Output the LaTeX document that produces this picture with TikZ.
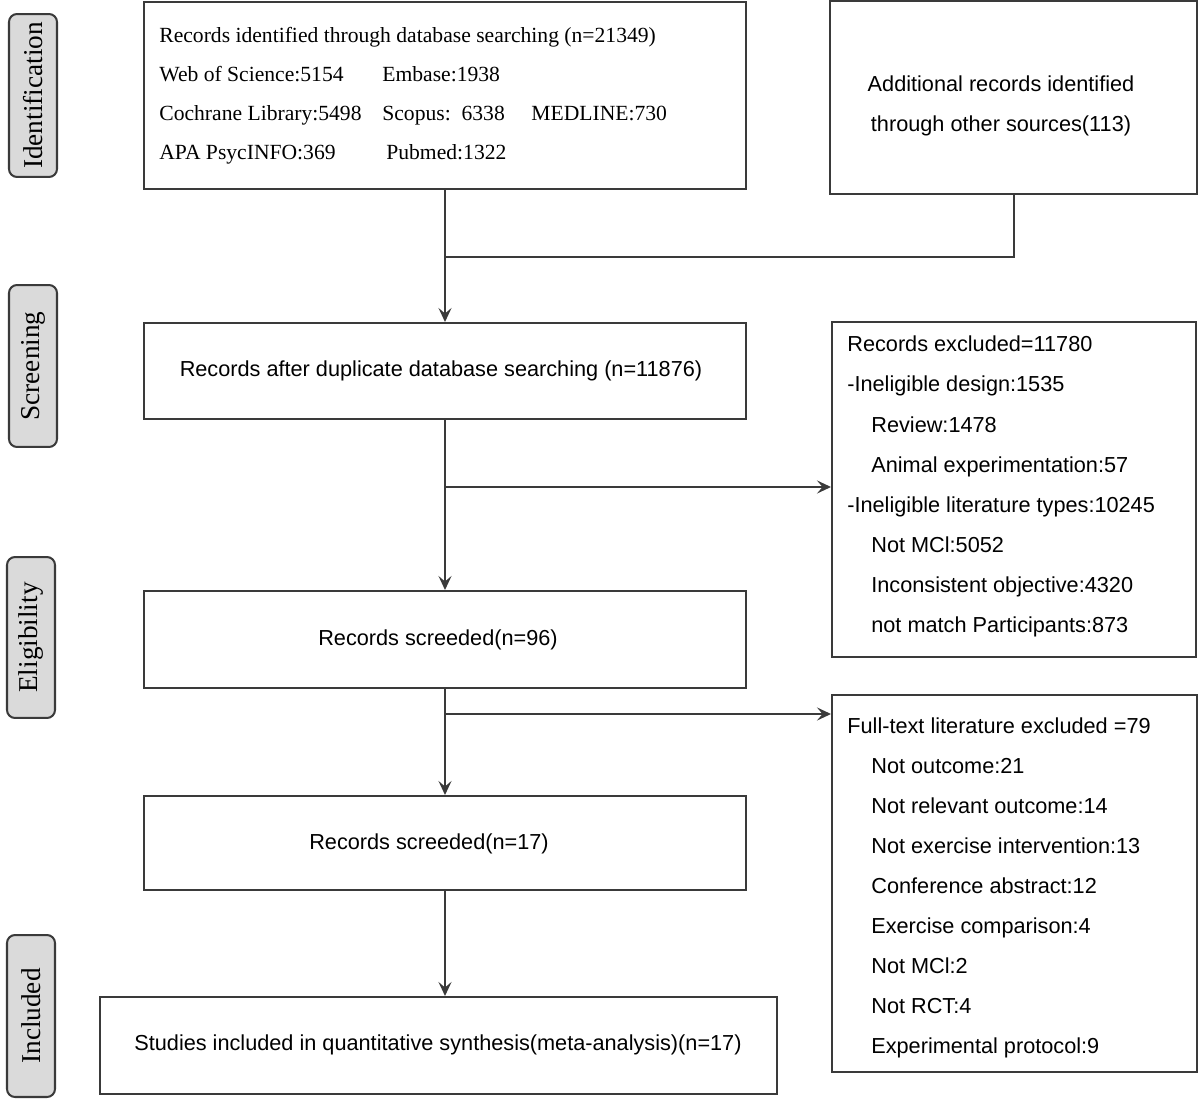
\documentclass[tikz,border=0pt]{standalone}
\usepackage{fontspec}
\setmainfont{Liberation Serif}
\setsansfont{Liberation Sans}
\usetikzlibrary{arrows.meta}
\definecolor{lc}{HTML}{3A3A3A}
\definecolor{lab}{HTML}{DADADA}
\begin{document}
\begin{tikzpicture}[x=0.02cm,y=-0.02cm,
 box/.style={draw=lc,line width=1.15pt,inner sep=0pt},
 lbl/.style={draw=lc,fill=lab,line width=1.15pt,rounded corners=0.16cm,rotate=90,inner sep=0pt,minimum height=0.96cm,font=\fontsize{15.5}{18}\selectfont},
 st/.style={inner sep=0pt,anchor=base west,font=\fontsize{12.3}{14}\selectfont},
 ss/.style={inner sep=0pt,anchor=base west,font=\sffamily\fontsize{12.35}{14}\selectfont},
 sc/.style={inner sep=0pt,anchor=base,font=\sffamily\fontsize{12.35}{14}\selectfont},
 con/.style={draw=lc,line width=1.15pt},
 arr/.style={con,-{Stealth[length=2.8mm,width=2.6mm,inset=1.1mm]}}]
\useasboundingbox (0,0) rectangle (1200,1101);

% side labels
\node[lbl,minimum width=3.26cm] (lid) at (33,95.5) {Identification};
\node[lbl,minimum width=3.24cm] (lsc) at (33,366) {Screening};
\node[lbl,minimum width=3.22cm] (lel) at (31,637.5) {Eligibility};
\node[lbl,minimum width=3.24cm] (lin) at (31,1016) {Included};

% boxes
\node[box,minimum width=12.06cm,minimum height=3.74cm] (b1) at (445,95.5) {};
\node[box,minimum width=7.34cm,minimum height=3.86cm] (b2) at (1013.5,97.5) {};
\node[box,minimum width=12.06cm,minimum height=1.92cm] (b3) at (445,371) {};
\node[box,minimum width=7.28cm,minimum height=6.7cm] (b4) at (1014,489.5) {};
\node[box,minimum width=12.04cm,minimum height=1.94cm] (b5) at (445,639.5) {};
\node[box,minimum width=7.3cm,minimum height=7.54cm] (b6) at (1014.5,883.5) {};
\node[box,minimum width=12.04cm,minimum height=1.88cm] (b7) at (445,843) {};
\node[box,minimum width=13.54cm,minimum height=1.94cm] (b8) at (438.5,1045.5) {};

% box 1 text
\node[st] (t11) at (159,43) {Records identified through database searching (n=21349)};
\node[st] (t12) at (159,82) {Web of Science:5154};
\node[st] (t13) at (382,82) {Embase:1938};
\node[st] (t14) at (159,121) {Cochrane Library:5498};
\node[st] (t15) at (382,121) {Scopus:\ \ 6338};
\node[st] (t16) at (531,121) {MEDLINE:730};
\node[st] (t17) at (159,160) {APA PsycINFO:369};
\node[st] (t18) at (386,160) {Pubmed:1322};

% box 2 text
\node[sc] (t21) at (1001,92) {Additional records identified};
\node[sc] (t22) at (1001,132) {through other sources(113)};

% box 3,5,7,8 text
\node[sc] (t31) at (441,377) {Records after duplicate database searching (n=11876)};
\node[sc] (t51) at (438,645) {Records screeded(n=96)};
\node[sc] (t71) at (429,849) {Records screeded(n=17)};
\node[sc] (t81) at (438,1050) {Studies included in quantitative synthesis(meta-analysis)(n=17)};

% box 4 text
\node[ss] (t41) at (847,352) {Records excluded=11780};
\node[ss] (t42) at (847,392) {-Ineligible design:1535};
\node[ss] (t43) at (871,432) {Review:1478};
\node[ss] (t44) at (871,472) {Animal experimentation:57};
\node[ss] (t45) at (847,512) {-Ineligible literature types:10245};
\node[ss] (t46) at (871,552) {Not MCl:5052};
\node[ss] (t47) at (871,592) {Inconsistent objective:4320};
\node[ss] (t48) at (871,632) {not match Participants:873};

% box 6 text
\node[ss] (t61) at (847,733) {Full-text literature excluded =79};
\node[ss] (t62) at (871,773) {Not outcome:21};
\node[ss] (t63) at (871,813) {Not relevant outcome:14};
\node[ss] (t64) at (871,853) {Not exercise intervention:13};
\node[ss] (t65) at (871,893) {Conference abstract:12};
\node[ss] (t66) at (871,933) {Exercise comparison:4};
\node[ss] (t67) at (871,973) {Not MCl:2};
\node[ss] (t68) at (871,1013) {Not RCT:4};
\node[ss] (t69) at (871,1053) {Experimental protocol:9};

% junctions
\coordinate (j1) at (445,257);
\coordinate (j2) at (445,487);
\coordinate (j3) at (445,714);

% connectors
\draw[arr] (b1.south) -- (b3.north);
\draw[con] (b2.south) |- (j1);
\draw[arr] (b3.south) -- (b5.north);
\draw[arr] (j2) -- (j2 -| b4.west);
\draw[arr] (b5.south) -- (b7.north);
\draw[arr] (j3) -- (j3 -| b6.west);
\draw[arr] (b7.south) -- (b7.south |- b8.north);
\end{tikzpicture}
\end{document}
